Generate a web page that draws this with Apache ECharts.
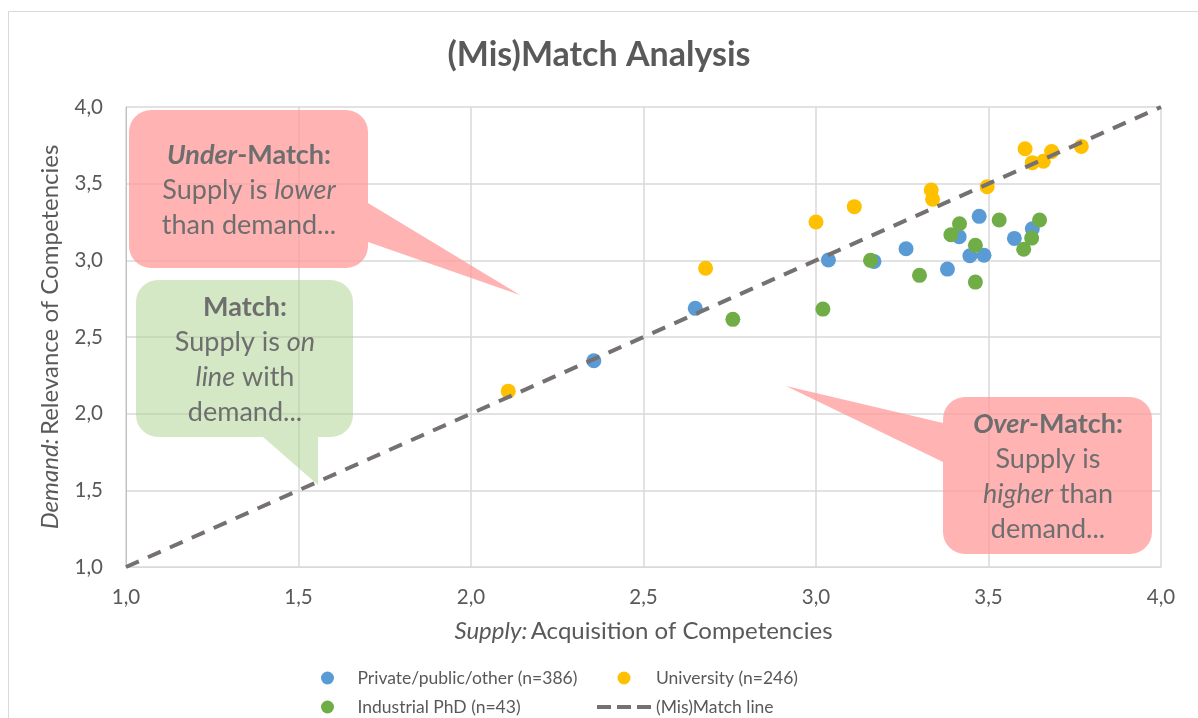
<!DOCTYPE html>
<html><head><meta charset="utf-8">
<script src="https://cdn.jsdelivr.net/npm/echarts@6/dist/echarts.min.js"></script>
<style>html,body{margin:0;padding:0;background:#fff}#c{width:1198px;height:718px}</style>
</head><body><div id="c"></div>
<script>
// ---- data ----
const seriesNames = ['Private/public/other (n=386)', 'University (n=246)', 'Industrial PhD (n=43)', '(Mis)Match line'];
const privateSupply = [2.356, 2.650, 3.036, 3.168, 3.261, 3.381, 3.415, 3.473, 3.446, 3.487, 3.575, 3.627];
const privateDemand = [2.345, 2.687, 3.002, 2.993, 3.076, 2.943, 3.154, 3.287, 3.030, 3.033, 3.143, 3.206];
const universitySupply = [2.108, 2.680, 3.000, 3.111, 3.334, 3.338, 3.496, 3.606, 3.627, 3.659, 3.683, 3.769];
const universityDemand = [2.147, 2.948, 3.250, 3.350, 3.459, 3.398, 3.480, 3.728, 3.637, 3.646, 3.709, 3.743];
const industrialSupply = [2.759, 3.020, 3.158, 3.300, 3.391, 3.416, 3.462, 3.462, 3.531, 3.602, 3.625, 3.648];
const industrialDemand = [2.615, 2.682, 3.000, 2.902, 3.167, 3.239, 3.098, 2.858, 3.263, 3.072, 3.145, 3.263];
const matchLineX = [1, 4];
const matchLineY = [1, 4];
const axisTicks = [1.0, 1.5, 2.0, 2.5, 3.0, 3.5, 4.0];

const zip = (a, b) => a.map((v, i) => [v, b[i]]);
const fmt = v => v.toFixed(1).replace('.', ',');
const FONT = 'Lato, "Liberation Sans", sans-serif';
const TXT = '#595959';
const CTXT = '#6e6e6e';

function calloutPoints(x1, y1, x2, y2, r, tail) {
  const pts = [];
  const arc = (cx, cy, a0, a1) => {
    for (let k = 0; k <= 8; k++) {
      const a = (a0 + (a1 - a0) * k / 8) * Math.PI / 180;
      pts.push([cx + r * Math.cos(a), cy + r * Math.sin(a)]);
    }
  };
  arc(x1 + r, y1 + r, 180, 270);
  arc(x2 - r, y1 + r, 270, 360);
  if (tail.edge === 'right') { pts.push([x2, tail.a], tail.tip, [x2, tail.b]); }
  arc(x2 - r, y2 - r, 0, 90);
  if (tail.edge === 'bottom') { pts.push([tail.a, y2], tail.tip, [tail.b, y2]); }
  arc(x1 + r, y2 - r, 90, 180);
  if (tail.edge === 'left') { pts.push([x1, tail.a], tail.tip, [x1, tail.b]); }
  return pts;
}

const CFS = 27;
const rich = {
  b: {fontFamily: FONT, fontSize: CFS, fontWeight: 'bold', fill: CTXT, lineHeight: 35},
  bi: {fontFamily: FONT, fontSize: CFS, fontWeight: 'bold', fontStyle: 'italic', fill: CTXT, lineHeight: 35},
  n: {fontFamily: FONT, fontSize: CFS, fill: CTXT, lineHeight: 35},
  i: {fontFamily: FONT, fontSize: CFS, fontStyle: 'italic', fill: CTXT, lineHeight: 35}
};
const PINK = 'rgba(255,153,153,0.75)';
const GREEN = 'rgba(169,209,142,0.5)';
const axisNameRich = {
  i: {fontFamily: FONT, fontSize: 24, fontStyle: 'italic', color: TXT},
  n: {fontFamily: FONT, fontSize: 24, color: TXT}
};
const legendText = {fontFamily: FONT, fontSize: 17.5, color: TXT, lineHeight: 18};
const dashIcon = 'path://M0,0H14V4H0Z M20,0H34V4H20Z M40,0H54V4H40Z';

const chart = echarts.init(document.getElementById('c'));
chart.setOption({
  backgroundColor: '#fff',
  animation: false,
  title: {
    text: '(Mis)Match Analysis', left: 'center', top: 33,
    textStyle: {fontFamily: FONT, fontSize: 34, fontWeight: 'bold', color: TXT}
  },
  grid: {left: 126, right: 37, top: 107, bottom: 151},
  xAxis: {
    type: 'value', min: 1, max: 4, interval: 0.5,
    name: '{i|Supply:} {n|Acquisition of Competencies}', nameLocation: 'middle', nameGap: 52,
    nameTextStyle: {rich: axisNameRich},
    axisLine: {show: true, lineStyle: {color: '#d9d9d9'}},
    axisTick: {show: false},
    axisLabel: {formatter: fmt, fontFamily: FONT, fontSize: 20.5, color: TXT, margin: 20},
    splitLine: {show: true, lineStyle: {color: '#d9d9d9', width: 1.5}}
  },
  yAxis: {
    type: 'value', min: 1, max: 4, interval: 0.5,
    name: '{i|Demand:} {n|Relevance of Competencies}', nameLocation: 'middle', nameGap: 64,
    nameTextStyle: {rich: axisNameRich},
    axisLine: {show: true, lineStyle: {color: '#bfbfbf'}},
    axisTick: {show: false},
    axisLabel: {formatter: fmt, fontFamily: FONT, fontSize: 20.5, color: TXT, margin: 23},
    splitLine: {show: true, lineStyle: {color: '#d9d9d9', width: 1.5}}
  },
  legend: [
    {data: [seriesNames[0], seriesNames[2]], orient: 'vertical', left: 321, top: 669, padding: 0,
     itemWidth: 50, itemHeight: 13, itemGap: 11, textStyle: legendText},
    {data: [seriesNames[1], {name: seriesNames[3], icon: dashIcon}], orient: 'vertical', left: 597, top: 669, padding: 0,
     itemWidth: 54, itemHeight: 13, itemGap: 11, textStyle: legendText}
  ],
  graphic: [
    {type: 'polygon', z: 1, silent: true,
     shape: {points: calloutPoints(129, 110, 368, 268, 22, {edge: 'right', a: 203, tip: [520, 295], b: 242})},
     style: {fill: PINK}},
    {type: 'polygon', z: 1, silent: true,
     shape: {points: calloutPoints(136, 280, 353, 437, 22, {edge: 'bottom', a: 318, tip: [318, 485], b: 263})},
     style: {fill: GREEN}},
    {type: 'polygon', z: 1, silent: true,
     shape: {points: calloutPoints(943, 397, 1152, 554, 22, {edge: 'left', a: 462, tip: [786, 386], b: 423})},
     style: {fill: PINK}},
    {type: 'text', z: 2, silent: true, x: 249, y: 190,
     style: {text: '{bi|Under}{b|-Match:}\n{n|Supply is }{i|lower}\n{n|than demand...}', rich: rich, align: 'center', verticalAlign: 'middle'}},
    {type: 'text', z: 2, silent: true, x: 245, y: 360,
     style: {text: '{b|Match:}\n{n|Supply is }{i|on}\n{i|line}{n| with}\n{n|demand...}', rich: rich, align: 'center', verticalAlign: 'middle'}},
    {type: 'text', z: 2, silent: true, x: 1048, y: 477,
     style: {text: '{bi|Over}{b|-Match:}\n{n|Supply is}\n{i|higher}{n| than}\n{n|demand...}', rich: rich, align: 'center', verticalAlign: 'middle'}},
    {type: 'rect', z: 0, silent: true, shape: {x: 8.5, y: 11.5, width: 1260, height: 760}, style: {fill: null, stroke: '#d9d9d9', lineWidth: 1}}
  ],
  series: [
    {name: seriesNames[0], type: 'scatter', symbol: 'circle', symbolSize: 15, itemStyle: {color: '#5B9BD5', opacity: 1}, data: zip(privateSupply, privateDemand), z: 3},
    {name: seriesNames[1], type: 'scatter', symbol: 'circle', symbolSize: 15, itemStyle: {color: '#FFC000', opacity: 1}, data: zip(universitySupply, universityDemand), z: 3},
    {name: seriesNames[2], type: 'scatter', symbol: 'circle', symbolSize: 15, itemStyle: {color: '#70AD47', opacity: 1}, data: zip(industrialSupply, industrialDemand), z: 3},
    {name: seriesNames[3], type: 'line', symbol: 'none', data: zip(matchLineX, matchLineY), z: 4,
     lineStyle: {color: '#767171', width: 4, type: [14, 10]}, itemStyle: {color: '#767171'}}
  ]
});
</script></body></html>
